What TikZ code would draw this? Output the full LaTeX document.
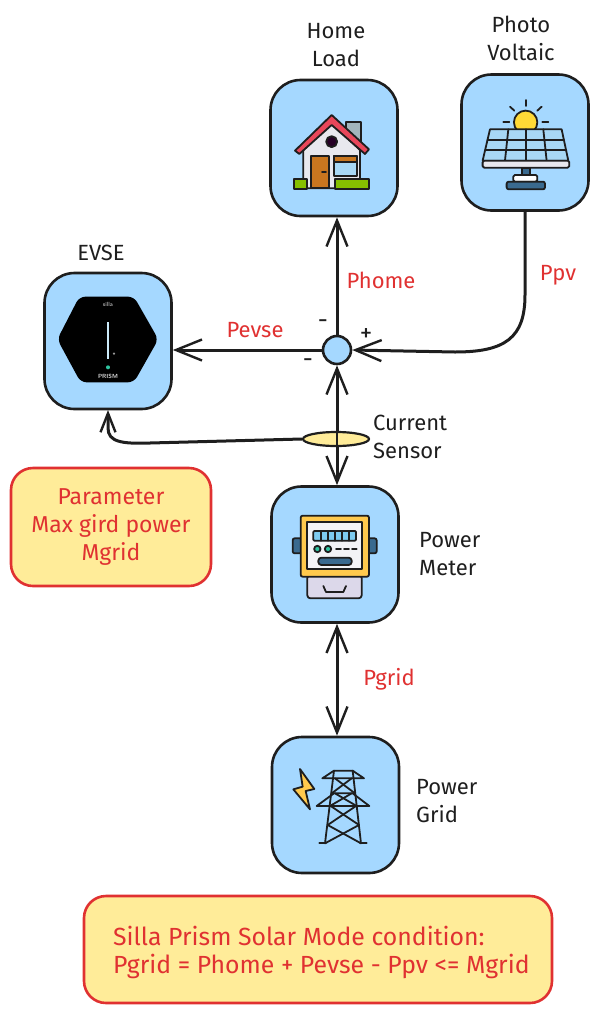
\documentclass[tikz,border=0pt]{standalone}
\usepackage{fontspec}
\setmainfont{Fira Sans}
\usetikzlibrary{arrows.meta,shapes.geometric}

\definecolor{boxblue}{HTML}{A5D8FF}
\definecolor{noteyellow}{HTML}{FFEC99}
\definecolor{notered}{HTML}{E03131}
\definecolor{inkblack}{HTML}{1E1E1E}
\definecolor{steelblue}{HTML}{3A6A8F}
\definecolor{skyblue}{HTML}{7DCBF0}
\definecolor{paleblue}{HTML}{A8D8F5}
\definecolor{palegrey}{HTML}{E8E8EE}
\definecolor{sunyellow}{HTML}{FFC94D}
\definecolor{chimneygrey}{HTML}{A3B5BB}
\definecolor{roofred}{HTML}{E8475A}
\definecolor{doorbrown}{HTML}{C8761F}
\definecolor{grassgreen}{HTML}{86C000}
\definecolor{dotteal}{HTML}{2FC4A0}
\definecolor{meterlilac}{HTML}{DCD8EA}

\tikzset{
  barb/.tip={Straight Barb[length=26pt,width=21pt,line width=2.4pt]},
  shortbarb/.tip={Straight Barb[length=19pt,width=15pt,line width=2.4pt]},
  iconbox/.style={draw=inkblack, line width=2.6pt, fill=boxblue, rounded corners=30pt, minimum width=127pt, minimum height=136pt},
  notebox/.style={draw=notered, line width=2.6pt, fill=noteyellow, rounded corners=22pt},
  conn/.style={draw=inkblack, line width=3pt, -barb},
  biconn/.style={draw=inkblack, line width=3pt, barb-barb},
  lbl/.style={text=inkblack, font=\fontsize{22}{28}\selectfont, align=center},
  redlbl/.style={text=notered, font=\fontsize{22}{28}\selectfont, align=center},
  signlbl/.style={text=inkblack, font=\fontsize{25}{25}\selectfont, inner sep=0pt},
  zoomed/.style={x=0.3333pt, y=-0.3333pt},
  icon/.style={draw=inkblack, line width=1.8pt, line join=round, line cap=round}
}

\begin{document}
\begin{tikzpicture}[x=1pt,y=-1pt]
  \useasboundingbox (0,0) rectangle (600,1015);

  % The boxes
  \node[iconbox] (homebox) at (334,148) {};
  \node[iconbox] (pvbox) at (525,142.5) {};
  \node[iconbox] (evsebox) at (108,341) {};
  \node[iconbox] (meterbox) at (335,554.5) {};
  \node[iconbox] (gridbox) at (335.5,805) {};
  \node[circle, draw=inkblack, line width=2.6pt, fill=boxblue, minimum size=28pt, inner sep=0pt] (hub) at (337,350) {};

  % Connectors
  \draw[conn] (hub.north) -- (hub.north |- homebox.south);
  \draw[conn] (hub.west) -- (hub.west -| evsebox.east);
  \draw[conn] (pvbox.south) -- (525,295) .. controls (525,338) and (505,352) .. (455,352) -- (hub.east);
  \draw[biconn] (hub.south) -- (hub.south |- meterbox.north);
  \draw[biconn] (hub.south |- meterbox.south) -- (hub.south |- gridbox.north);

  % Current sensor
  \node[ellipse, draw=inkblack, line width=2.2pt, fill=noteyellow, minimum width=66pt, minimum height=14pt, inner sep=0pt] (sensor) at (336,439) {};
  \draw[inkblack, line width=2.2pt] (sensor.north -| hub) -- (sensor.south -| hub);
  \draw[conn, -shortbarb] (sensor.west) -- (150,443) .. controls (122,444) and (108,442) .. (108,428) -- (108,410);

  % Labels
  \node[lbl] (homelabel) at (336,45) {Home\\Load};
  \node[lbl] (pvlabel) at (521,38) {Photo\\Voltaic};
  \node[lbl] (evselabel) at (101,253) {EVSE};
  \node[lbl, align=left, anchor=west, inner sep=0pt] (sensorlabel) at (373,437) {Current\\Sensor};
  \node[lbl, align=left, anchor=west, inner sep=0pt] (meterlabel) at (419,554) {Power\\Meter};
  \node[lbl, align=left, anchor=west, inner sep=0pt] (gridlabel) at (416,801) {Power\\Grid};
  \node[redlbl] (phome) at (381,280) {Phome};
  \node[redlbl] (ppv) at (558,275) {Ppv};
  \node[redlbl] (pevse) at (255,330) {Pevse};
  \node[redlbl] (pgrid) at (389,679) {Pgrid};
  \node[signlbl] (signup) at (323,324) {-};
  \node[signlbl] (signpv) at (366,335) {+};
  \node[signlbl] (signdown) at (308,363) {-};

  % Yellow notes
  \node[notebox, minimum width=200pt, minimum height=118pt, redlbl, font=\fontsize{23}{28}\selectfont] (paramnote) at (111,527) {Parameter\\Max gird power\\Mgrid};
  \node[notebox, minimum width=468pt, minimum height=107pt] (modenote) at (318,949.5) {};
  \node[redlbl, align=left, anchor=west, inner sep=0pt, font=\fontsize{24.8}{28}\selectfont] (modetext) at (113,952) {Silla Prism Solar Mode condition:\\Pgrid = Phome + Pevse - Ppv <= Mgrid};

  % House
  \begin{scope}[shift={(260,0)},zoomed]
    \draw[icon, fill=chimneygrey] (258,365) rectangle (303,425);
    \draw[icon, fill=palegrey] (130,565) -- (130,450) -- (215,370) -- (300,450) -- (300,565) -- cycle;
    \draw[icon, fill=roofred] (105,452) -- (215,345) -- (327,448) -- (315,462) -- (215,375) -- (118,462) -- cycle;
    \draw[icon, fill=black!70!violet] (215,425) circle (5.5pt);
    \draw[icon, fill=doorbrown] (152,468) rectangle (208,565);
    \draw[icon] (186,516) -- (198,516);
    \draw[icon, fill=paleblue] (222,468) rectangle (290,528);
    \draw[icon, fill=doorbrown] (222,468) rectangle (290,485);
    \draw[icon, fill=grassgreen] (103,538) rectangle (142,566);
    \draw[icon, fill=grassgreen] (224,538) rectangle (328,566);
  \end{scope}

  % Solar panel
  \begin{scope}[shift={(260,0)},zoomed]
    \draw[icon, fill=sunyellow!70!yellow] (797,367) circle (11.7pt);
    \foreach \xa/\ya/\xb/\yb in {797/300/797/318, 750/320/763/332, 845/320/832/332, 730/367/748/367, 847/367/865/367}
      \draw[icon] (\xa,\ya) -- (\xb,\yb);
    \draw[icon, fill=paleblue] (690,388) -- (905,388) -- (925,482) -- (668,482) -- cycle;
    \draw[icon] (683,420) -- (912,420);
    \draw[icon] (676,450) -- (919,450);
    \draw[icon] (745,388) -- (735,482);
    \draw[icon] (797,388) -- (797,482);
    \draw[icon] (850,388) -- (860,482);
    \draw[icon, fill=palegrey, rounded corners=1.5pt] (668,482) rectangle (928,503);
    \draw[icon, fill=steelblue] (785,503) rectangle (810,525);
    \draw[icon, fill=white, rounded corners=1.5pt] (760,525) rectangle (832,545);
    \draw[icon, fill=steelblue, rounded corners=2pt] (740,545) rectangle (855,568);
  \end{scope}

  % Charger
  \begin{scope}[shift={(30,240)},zoomed]
    \fill[black, rounded corners=6pt] (82,298) -- (148,170) -- (312,170) -- (385,298) -- (312,427) -- (152,427) -- cycle;
    \node[text=white!85!black, font=\sffamily\fontsize{6}{6}\selectfont, inner sep=0pt] (sillatext) at (234,193) {silla};
    \fill[skyblue!40!white] (231,247) rectangle (237,357);
    \fill[white!60!black] (252,341) circle (1.2pt);
    \fill[dotteal] (234,382) circle (2pt);
    \node[text=white!85!black, font=\sffamily\bfseries\fontsize{6}{6}\selectfont, inner sep=0pt] (prismtext) at (234,410) {PRISM};
  \end{scope}

  % Power meter
  \begin{scope}[shift={(260,480)},zoomed]
    \draw[icon, fill=steelblue, rounded corners=2pt] (98,175) rectangle (125,220);
    \draw[icon, fill=steelblue, rounded corners=2pt] (323,175) rectangle (350,220);
    \draw[icon, fill=meterlilac, rounded corners=3pt] (142,285) rectangle (305,355);
    \draw[icon] (190,318) -- (198,336) -- (250,336) -- (258,318);
    \draw[icon, fill=sunyellow, rounded corners=2pt] (122,107) rectangle (327,290);
    \draw[icon, fill=palegrey!50!white] (142,127) rectangle (305,268);
    \draw[icon, fill=skyblue, rounded corners=1pt] (160,153) rectangle (288,182);
    \foreach \xa in {182,204,225,246,267}
      \draw[icon] (\xa,153) -- (\xa,182);
    \draw[icon, fill=dotteal] (172,207) circle (3.2pt);
    \draw[icon, fill=dotteal] (204,207) circle (3.2pt);
    \draw[icon, dash pattern=on 5pt off 3pt] (228,207) -- (290,207);
    \draw[icon, fill=steelblue, rounded corners=3pt] (175,233) rectangle (275,255);
  \end{scope}

  % Pylon
  \begin{scope}[shift={(260,730)},zoomed]
    \draw[icon, fill=sunyellow] (120,117) -- (163,177) -- (137,183) -- (150,238) -- (100,178) -- (128,170) -- cycle;
    \draw[icon] (187,145) -- (312,145) -- (278,122) -- (222,122) -- cycle;
    \draw[icon] (170,228) -- (328,228) -- (278,190) -- (222,190) -- cycle;
    \draw[icon] (222,122) -- (195,340);
    \draw[icon] (278,122) -- (303,340);
    \draw[icon] (178,340) -- (198,340);
    \draw[icon] (300,340) -- (320,340);
    \draw[icon] (225,145) -- (285,190);
    \draw[icon] (275,145) -- (215,190);
    \draw[icon] (212,228) -- (297,285);
    \draw[icon] (288,228) -- (203,285);
    \draw[icon] (203,285) -- (303,340);
    \draw[icon] (297,285) -- (195,340);
    \draw[icon] (225,190) -- (290,228);
    \draw[icon] (275,190) -- (210,228);
  \end{scope}
\end{tikzpicture}
\end{document}
